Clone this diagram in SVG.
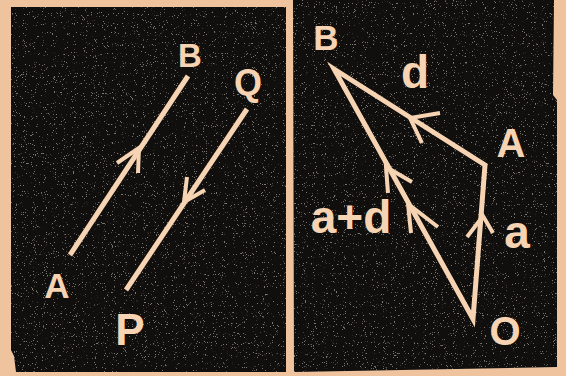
<svg xmlns="http://www.w3.org/2000/svg" width="566" height="376" viewBox="0 0 566 376">
<defs>
<style>
.chalk{fill:none;stroke:#f6d3b2;stroke-width:5;stroke-linecap:butt;stroke-linejoin:miter;stroke-miterlimit:12}
.chev{fill:none;stroke:#f6d3b2;stroke-width:4;stroke-linecap:butt;stroke-linejoin:miter;stroke-miterlimit:12}
.lbl{fill:#f6d3b2;font-family:"Liberation Sans","DejaVu Sans",sans-serif;font-weight:bold;text-anchor:middle}
.board{fill:#110f0d}
</style>
<filter id="speck" x="0" y="0" width="100%" height="100%">
<feTurbulence type="fractalNoise" baseFrequency="0.9" numOctaves="2" seed="7" result="n"/>
<feColorMatrix in="n" type="matrix" values="0 0 0 0 0.8  0 0 0 0 0.75  0 0 0 0 0.68  14 0 0 0 -9.3"/>
<feComposite in2="SourceGraphic" operator="in"/>
</filter>
</defs>
<rect x="0" y="0" width="566" height="376" fill="#efc39e"/>
<g id="panels">
<path class="board" d="M11,7 L286,7 L286,372 L16,372 L14,356 L11,350 Z"/>
<path class="board" d="M293,0 L554,0 L553,95 L557,100 L557,367 L294,372 Z"/>
<path d="M11,7 L286,7 L286,372 L16,372 L14,356 L11,350 Z" fill="#000" filter="url(#speck)" opacity="0.5"/>
<path d="M293,0 L554,0 L553,95 L557,100 L557,367 L294,372 Z" fill="#000" filter="url(#speck)" opacity="0.5"/>
</g>
<g id="connectors">
<line class="chalk" x1="70" y1="255" x2="188" y2="76"/>
<polyline class="chev" points="117,163 139,148 138,173"/>
<line class="chalk" x1="247" y1="109" x2="126" y2="290"/>
<polyline class="chev" points="187,177 184,202 205,190"/>
<path class="chalk" d="M334,69 L485,165 L473,319 Z"/>
<polyline class="chev" points="467,237 483,216 493,233"/>
<polyline class="chev" points="440,113 410,118 422,143"/>
<polyline class="chev" points="412,182 386,167 388,193"/>
<polyline class="chev" points="438,227 408,204 411,233"/>
</g>
<g id="node-A-left"><text class="lbl" x="57" y="298" font-size="35">A</text></g>
<g id="node-B-left"><text class="lbl" x="190" y="67" font-size="33">B</text></g>
<g id="node-Q"><text class="lbl" x="248" y="95" font-size="36">Q</text></g>
<g id="node-P"><text class="lbl" x="130" y="345" font-size="44">P</text></g>
<g id="node-B-right"><text class="lbl" x="326" y="50" font-size="35">B</text></g>
<g id="label-d"><text class="lbl" x="415" y="88" font-size="46">d</text></g>
<g id="node-A-right"><text class="lbl" x="511" y="157" font-size="40">A</text></g>
<g id="label-a"><text class="lbl" x="517" y="248" font-size="46">a</text></g>
<g id="label-a-plus-d"><text class="lbl" x="351" y="233" font-size="46">a+d</text></g>
<g id="node-O"><text class="lbl" x="505" y="345" font-size="40">O</text></g>
</svg>
